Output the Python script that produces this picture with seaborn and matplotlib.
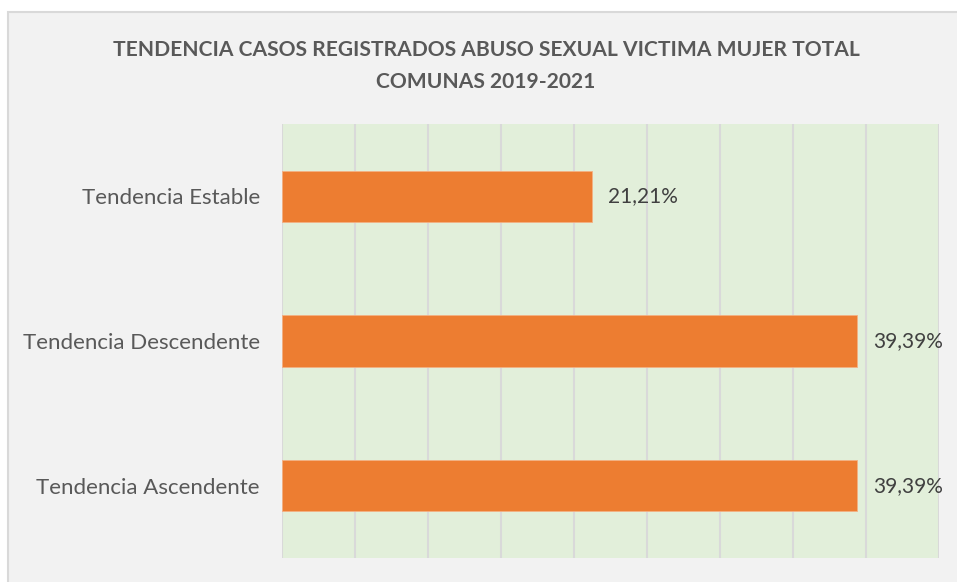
import matplotlib
matplotlib.use("Agg")
import matplotlib.pyplot as plt
import seaborn as sns
import pandas as pd
from matplotlib.patches import Rectangle

categories = ["Tendencia Estable", "Tendencia Descendente", "Tendencia Ascendente"]
values = [21.21, 39.39, 39.39]
value_labels = ["21,21%", "39,39%", "39,39%"]
title = "TENDENCIA CASOS REGISTRADOS ABUSO SEXUAL VICTIMA MUJER TOTAL\nCOMUNAS 2019-2021"

df = pd.DataFrame({"categoria": categories, "valor": values})

sns.set_theme(style="white")
plt.rcParams["font.family"] = ["Lato", "DejaVu Sans"]

W, H = 957, 582
fig = plt.figure(figsize=(W / 100, H / 100), dpi=100, facecolor="white")

# chart area background
fig.patches.append(Rectangle((8 / W, -0.2), 1.2, (H - 12) / H + 0.2, transform=fig.transFigure,
                             facecolor="#F2F2F2", edgecolor="#D9D9D9", linewidth=1.5, zorder=-10))

left, right, top, bottom = 282, 939, 124, 558
ax = fig.add_axes([left / W, 1 - bottom / H, (right - left) / W, (bottom - top) / H])
ax.set_zorder(5)
ax.set_facecolor("#E2EFDA")

sns.barplot(data=df, x="valor", y="categoria", order=categories, color="#ED7D31",
            width=0.353, saturation=1, ax=ax, edgecolor="#F4B183", linewidth=0.6, zorder=3)

ax.set_xlim(0, 45)
ax.set_xticks(range(0, 46, 5))
ax.xaxis.grid(True, color="#D9D9D9", linewidth=1.5, zorder=1)
ax.set_axisbelow(True)
ax.tick_params(axis="x", length=0, labelbottom=False)
ax.tick_params(axis="y", length=0, pad=16, labelsize=16, labelcolor="#595959")
for s in ax.spines.values():
    s.set_visible(False)
ax.set_xlabel("")
ax.set_ylabel("")

for i, (v, lab) in enumerate(zip(values, value_labels)):
    ax.annotate(lab, (v, i), xytext=(11.5, 0), textcoords="offset points",
                va="center", ha="left", fontsize=15, color="#404040")

fig.text(486 / W, 1 - 66 / H, title, ha="center", va="center", fontsize=15.1,
         fontweight="bold", color="#595959", linespacing=1.7)

fig.savefig("out.png", dpi=100, facecolor="white")
